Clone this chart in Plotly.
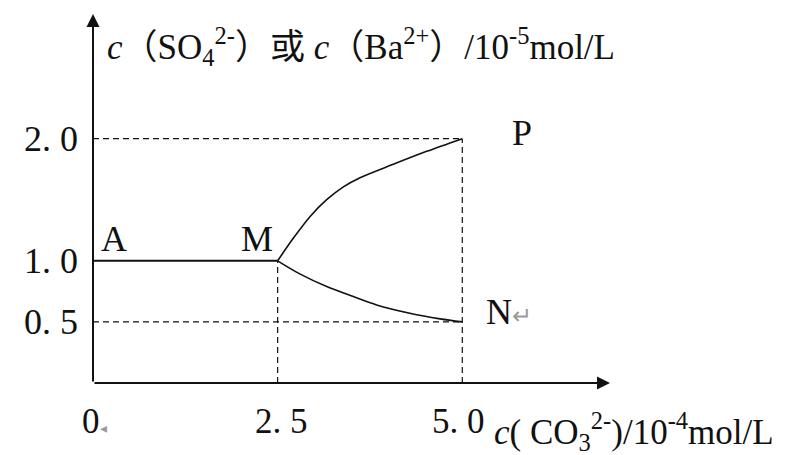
import plotly.graph_objects as go

# Data (x: c(CO3^2-) / 1e-4 mol/L, y: c(SO4^2-) or c(Ba^2+) / 1e-5 mol/L)
flat_x = [0.0, 2.5]
flat_y = [1.0, 1.0]

upper_x = [2.5, 2.714, 2.94, 3.164, 3.39, 3.615, 4.066, 4.518, 5.0]
upper_y = [1.0, 1.186, 1.363, 1.50, 1.605, 1.680, 1.790, 1.896, 2.0]

lower_x = [2.5, 2.80, 3.164, 3.525, 3.84, 4.29, 4.70, 5.0]
lower_y = [1.0, 0.893, 0.789, 0.707, 0.639, 0.571, 0.525, 0.5]

x_ticks = [0, 2.5, 5.0]
x_tick_text = ["0<span style='color:#9a9a9a;font-size:14px'>◂</span>", "2. 5", "5. 0"]
x_tick_shift = [1, 4, -4]
y_ticks = [2.0, 1.0, 0.5]
y_tick_text = ["2. 0", "1. 0", "0. 5"]

points = {"A": (0.0, 1.0), "M": (2.5, 1.0), "P": (5.0, 2.0), "N": (5.0, 0.5)}

X_MAX = 7.0
Y_MAX = 3.02

SERIF = "Liberation Serif, Times New Roman, Noto Sans CJK SC, serif"
BLACK = "#111111"

fig = go.Figure()

# dashed guide lines
dash_style = dict(color=BLACK, width=1.2, dash="6px,4px")
px_, py_ = points["P"]
nx_, ny_ = points["N"]
mx_, my_ = points["M"]
for xs, ys in [
    ([0, px_], [py_, py_]),
    ([px_, px_], [0, py_]),
    ([0, nx_], [ny_, ny_]),
    ([mx_, mx_], [0, my_]),
]:
    fig.add_trace(go.Scatter(x=xs, y=ys, mode="lines", line=dash_style,
                             hoverinfo="skip", showlegend=False))

# solid curves
solid = dict(color=BLACK, width=1.6)
fig.add_trace(go.Scatter(x=flat_x, y=flat_y, mode="lines",
                         line=dict(color=BLACK, width=2), showlegend=False))
fig.add_trace(go.Scatter(x=upper_x, y=upper_y, mode="lines",
                         line=dict(shape="spline", smoothing=0.9, **solid),
                         showlegend=False))
fig.add_trace(go.Scatter(x=lower_x, y=lower_y, mode="lines",
                         line=dict(shape="spline", smoothing=0.9, **solid),
                         showlegend=False))

annotations = []

# axes with arrow heads
for tip, tail in [((X_MAX, 0), (0, 0)), ((0, Y_MAX), (0, 0))]:
    annotations.append(dict(
        x=tip[0], y=tip[1], ax=tail[0], ay=tail[1],
        xref="x", yref="y", axref="x", ayref="y",
        showarrow=True, arrowhead=2, arrowsize=1.3, arrowwidth=2,
        arrowcolor=BLACK, text=""))

# tick labels
for v, t, s in zip(x_ticks, x_tick_text, x_tick_shift):
    annotations.append(dict(x=v, y=0, xref="x", yref="y", text=t,
                            showarrow=False,
                            font=dict(family=SERIF, size=35, color=BLACK),
                            xanchor="center", yanchor="middle",
                            xshift=s, yshift=-38))
for v, t in zip(y_ticks, y_tick_text):
    annotations.append(dict(x=0, y=v, xref="x", yref="y", text=t,
                            showarrow=False,
                            font=dict(family=SERIF, size=36, color=BLACK),
                            xanchor="right", yanchor="middle", xshift=-13))

# point labels
pt_font = dict(family=SERIF, size=36, color=BLACK)
annotations += [
    dict(x=points["A"][0], y=points["A"][1], text="A", xanchor="left",
         yanchor="bottom", xshift=6, yshift=0),
    dict(x=points["M"][0], y=points["M"][1], text="M", xanchor="right",
         yanchor="bottom", xshift=-3, yshift=0),
    dict(x=points["P"][0], y=points["P"][1], text="P", xanchor="left",
         yanchor="middle", xshift=48, yshift=6),
    dict(x=points["N"][0], y=points["N"][1],
         text="N<span style='color:#9a9a9a;font-size:24px'>↵</span>",
         xanchor="left", yanchor="middle", xshift=22, yshift=10),
]
for a in annotations[-4:]:
    a.update(xref="x", yref="y", showarrow=False, font=pt_font)

# axis titles
annotations.append(dict(
    x=0, y=Y_MAX, xref="x", yref="y", xanchor="left", yanchor="top",
    xshift=12, yshift=-6, showarrow=False,
    font=dict(family=SERIF, size=35, color=BLACK),
    text="<i>c</i>（SO<sub>4</sub><sup>2-</sup>）或 <i>c</i>（Ba<sup>2+</sup>）/10<sup>-5</sup>mol/L"))
annotations.append(dict(
    x=5.44, y=0, xref="x", yref="y", xanchor="left", yanchor="top",
    xshift=-2, yshift=-23, showarrow=False, borderpad=0,
    font=dict(family=SERIF, size=35, color=BLACK),
    text="<i>c</i>( CO<sub>3</sub><sup>2-</sup>)/10<sup>-4</sup>mol/L"))

fig.update_layout(
    width=802, height=455,
    margin=dict(l=93, r=802 - 93 - 517, t=14, b=72),
    paper_bgcolor="white", plot_bgcolor="white",
    xaxis=dict(range=[0, X_MAX], visible=False, fixedrange=True),
    yaxis=dict(range=[0, Y_MAX], visible=False, fixedrange=True),
    annotations=annotations,
    showlegend=False,
)

fig.write_html("out.html")
